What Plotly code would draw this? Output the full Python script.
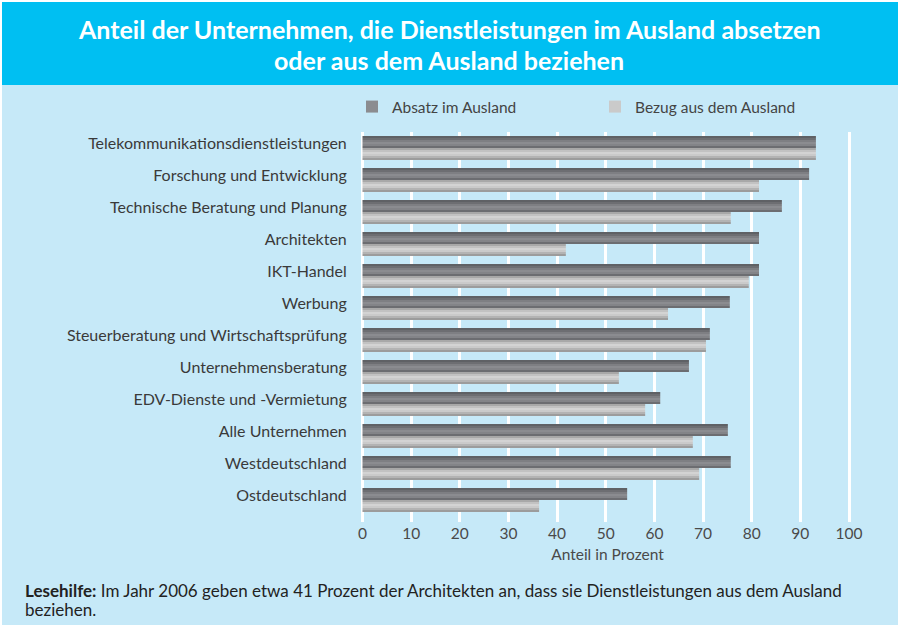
import plotly.graph_objects as go

categories = [
    "Telekommunikationsdienstleistungen",
    "Forschung und Entwicklung",
    "Technische Beratung und Planung",
    "Architekten",
    "IKT-Handel",
    "Werbung",
    "Steuerberatung und Wirtschaftsprüfung",
    "Unternehmensberatung",
    "EDV-Dienste und -Vermietung",
    "Alle Unternehmen",
    "Westdeutschland",
    "Ostdeutschland",
]
absatz = [93.2, 91.8, 86.2, 81.5, 81.5, 75.5, 71.4, 67.1, 61.2, 75.1, 75.7, 54.4]
bezug = [93.2, 81.5, 75.7, 41.8, 79.4, 62.8, 70.6, 52.7, 58.1, 67.9, 69.2, 36.3]
series_names = ["Absatz im Ausland", "Bezug aus dem Ausland"]
x_ticks = list(range(0, 101, 10))

title_lines = ["Anteil der Unternehmen, die Dienstleistungen im Ausland absetzen",
               "oder aus dem Ausland beziehen"]
note_lines = ["<b>Lesehilfe:</b> Im Jahr 2006 geben etwa 41 Prozent der Architekten an, dass sie Dienstleistungen aus dem Ausland",
              "beziehen."]

W, H = 898, 625
L, R, T, B = 355, 38, 132, 103
PW, PH = W - L - R, H - T - B

def px_x(p):
    return (p - L) / PW

def px_y(p):
    return (H - B - p) / PH

FONT = "Lato, 'Open Sans', sans-serif"

dark_cols = ["#5f6165", "#6d6e72", "#7e7f83", "#8b8c90", "#838488", "#6c6d71"]
light_cols = ["#a8a8a8", "#c2c2c2", "#d3d3d3", "#cacaca", "#b3b3b3", "#9c9c9c"]
bar_h = 0.375
n = len(dark_cols)
sw = bar_h / n

fig = go.Figure()
for si, (vals, cols, base) in enumerate([(absatz, dark_cols, -bar_h), (bezug, light_cols, 0.0)]):
    for i, c in enumerate(cols):
        fig.add_trace(go.Bar(
            y=categories, x=vals, orientation="h",
            name=series_names[si], legendgroup=series_names[si],
            showlegend=(i == 3),
            offset=base + i * sw, width=sw,
            marker=dict(color=c, line=dict(width=0)),
        ))

annotations = []
for txt, yc in zip(title_lines, [29, 60]):
    annotations.append(dict(
        text=txt, xref="paper", yref="paper", x=px_x(449), y=px_y(yc),
        xanchor="center", yanchor="middle", showarrow=False,
        font=dict(family=FONT, size=25, color="white", weight="bold"),
    ))
for txt, yc in zip(note_lines, [590, 609]):
    annotations.append(dict(
        text=txt, xref="paper", yref="paper", x=px_x(23), y=px_y(yc),
        xanchor="left", yanchor="middle", align="left", showarrow=False,
        font=dict(family=FONT, size=17, color="#222"),
    ))

fig.update_layout(
    width=W, height=H,
    margin=dict(l=L, r=R, t=T, b=B),
    paper_bgcolor="white",
    plot_bgcolor="#C6E9F8",
    barmode="overlay",
    font=dict(family=FONT, color="#3a3a3a"),
    legend=dict(
        orientation="h", x=px_x(352), xanchor="left", y=px_y(107), yanchor="middle",
        bgcolor="rgba(0,0,0,0)", font=dict(size=15.5, color="#444"),
        entrywidth=198, entrywidthmode="pixels", traceorder="normal",
    ),
    xaxis=dict(
        range=[-1.54, 102.26], tickvals=x_ticks, showgrid=True,
        gridcolor="white", gridwidth=3, zeroline=False,
        tickfont=dict(size=15.5, color="#4a4a4a"),
        title=dict(text="Anteil in Prozent", font=dict(size=15.5, color="#4a4a4a"), standoff=8),
        fixedrange=True,
    ),
    yaxis=dict(
        type="category", categoryorder="array", categoryarray=categories,
        range=[len(categories) - 1 + 0.6875, -0.5],
        showgrid=False, zeroline=False,
        ticks="outside", ticklen=4, tickcolor="rgba(0,0,0,0)",
        ticklabelshift=5,
        tickfont=dict(size=16, color="#3a3a3a"),
    ),
    shapes=[
        dict(type="rect", xref="paper", yref="paper", x0=px_x(2), x1=px_x(W), y0=px_y(H), y1=px_y(85),
             fillcolor="#C6E9F8", line=dict(width=0), layer="below"),
        dict(type="rect", xref="paper", yref="paper", x0=px_x(2), x1=px_x(W), y0=px_y(85), y1=px_y(2),
             fillcolor="#00BFF2", line=dict(width=0), layer="below"),
    ],
    annotations=annotations,
)

fig.write_html("out.html", config={"displayModeBar": False},
               post_script="document.body.style.margin='0';document.body.style.overflow='hidden';")
